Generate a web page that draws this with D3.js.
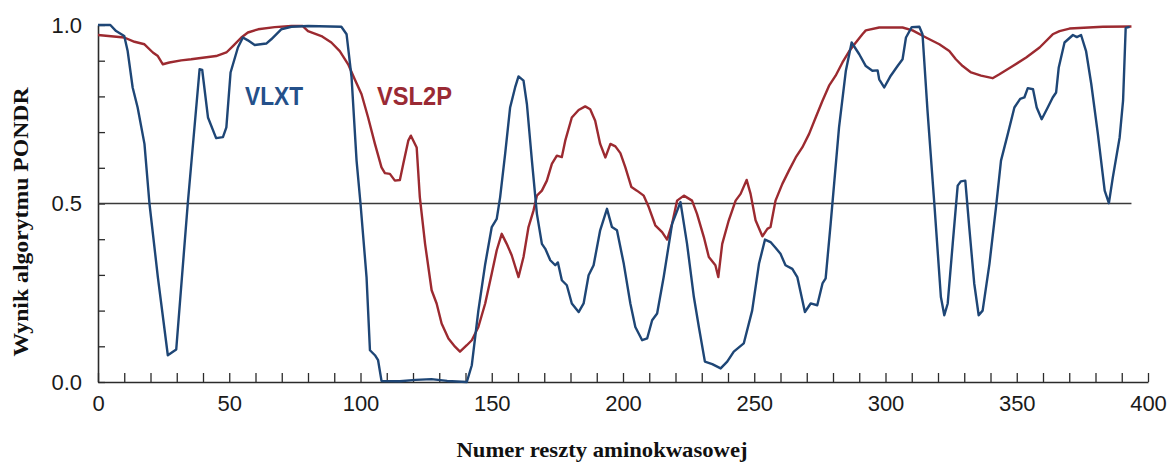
<!DOCTYPE html>
<html>
<head>
<meta charset="utf-8">
<script src="https://cdn.jsdelivr.net/npm/d3@7"></script>
<style>
  html, body { margin: 0; padding: 0; background: #ffffff; }
  svg { display: block; }
</style>
</head>
<body>
<svg id="chart" width="1171" height="464"></svg>
<script>
// ---- Data ----
const vlxtResidue = [0,1,4.7,6.9,10,11.3,13.2,15.1,17.7,19.6,22.8,26.6,29.8,34.2,38.7,39.7,41.9,45,47.6,48.9,50.5,53.3,55.2,57.1,59.7,64.1,66,69.8,73.7,80,92.7,94.7,96.6,98.5,100,102.3,103.6,105.5,106.7,108,115,121,127,133,140.5,142.4,144.9,147.5,150,151.9,153.2,155.1,157,158.9,160.2,162.1,163.4,165.3,167.2,169.1,170.4,172.3,174.2,175.2,176.7,178.6,180.5,183.1,185,186.9,188.8,191.3,193.9,195.8,197.7,200.3,202.8,204.7,207.3,209.2,211.1,213,215.5,218.7,221.9,224.4,227,228.9,231.2,234,237.2,239.7,242.2,246,249.2,251.8,254.1,256.2,258.1,260,261.9,264.5,266.4,269.3,271.5,274,276,277.2,279.1,282.3,284.9,287.1,290,292.5,295,297,297.6,299.5,302,304.6,306.5,307.8,310,312.9,314.1,316,318.6,321.1,322.4,323.7,325.6,327.5,328.7,330.4,331.9,333.8,335.5,337,339.6,342.1,344,346.6,349.1,351.3,352.9,354.2,356.2,357.6,359.5,361.8,363.7,365,366,368.2,371.4,372.9,374.5,376.4,378.4,380.9,383.5,385.1,386.6,389.2,390.5,391.5,393];
const vlxtScore = [1.0,1.0,1.0,0.983,0.969,0.927,0.825,0.769,0.667,0.5,0.294,0.075,0.091,0.5,0.876,0.874,0.741,0.683,0.686,0.713,0.867,0.937,0.965,0.957,0.944,0.948,0.96,0.988,0.995,0.997,0.995,0.974,0.853,0.62,0.5,0.294,0.089,0.075,0.061,0.003,0.002,0.006,0.008,0.003,0.0,0.047,0.2,0.33,0.434,0.457,0.518,0.639,0.769,0.825,0.856,0.844,0.778,0.62,0.471,0.387,0.373,0.341,0.327,0.335,0.285,0.271,0.22,0.196,0.22,0.299,0.327,0.425,0.485,0.434,0.425,0.331,0.22,0.154,0.117,0.122,0.173,0.192,0.294,0.443,0.504,0.387,0.238,0.154,0.057,0.05,0.038,0.057,0.085,0.108,0.2,0.331,0.399,0.392,0.376,0.359,0.327,0.317,0.294,0.196,0.22,0.215,0.276,0.29,0.443,0.713,0.872,0.951,0.918,0.885,0.872,0.873,0.848,0.825,0.858,0.885,0.904,0.965,0.994,0.995,0.974,0.76,0.5,0.238,0.187,0.22,0.387,0.55,0.562,0.564,0.434,0.276,0.187,0.2,0.331,0.49,0.62,0.695,0.769,0.793,0.797,0.823,0.82,0.769,0.736,0.769,0.797,0.811,0.881,0.951,0.972,0.966,0.972,0.927,0.834,0.695,0.536,0.501,0.573,0.685,0.788,0.992,0.995];

const vsl2pResidue = [0,10,13.9,17.7,20.9,22.8,24.7,27.2,31.7,35.5,40.6,45,48.9,51.4,54.6,57.1,61,67.3,73.7,78,80,85.1,88.9,92.1,95.3,97.8,100.4,102.9,105.5,108,109.3,111.2,113.1,115,116.3,118.2,119.2,121.4,122.6,124.6,127.1,129,130.9,133.5,136,137.9,140.5,142.4,144.9,147.5,150,151.9,153.8,155.7,157.6,160.2,162.1,164,165.9,167.2,169.1,171,172.9,174.8,176.7,178,180.5,183.1,185.6,187.5,189.4,191.3,193.3,195.2,197.1,199,200.9,203.2,205.3,207.9,209.8,212.3,214.9,216.8,218.7,220.6,223.2,226.3,228.2,230.8,232.7,235.2,236.3,237.8,240.3,242.9,244.8,247.1,248.6,250.5,253.1,255,256.2,258.1,260.7,263.2,265.8,268.3,270.9,273.4,276,278.5,281,283.6,286.2,288.7,291.2,292.5,297.6,306.5,310.3,315.4,320.5,324.3,326.8,329.4,332.6,336.4,340.8,343.4,348.5,353.6,358.7,363.7,366.3,370.1,382.8,393.7];
const vsl2pScore = [0.972,0.965,0.953,0.946,0.923,0.913,0.89,0.895,0.901,0.904,0.909,0.913,0.923,0.941,0.965,0.979,0.988,0.994,0.997,0.997,0.983,0.969,0.951,0.927,0.89,0.848,0.806,0.741,0.667,0.601,0.585,0.583,0.564,0.566,0.611,0.676,0.69,0.657,0.518,0.387,0.257,0.22,0.164,0.122,0.099,0.085,0.103,0.117,0.154,0.22,0.304,0.369,0.415,0.387,0.355,0.294,0.35,0.434,0.48,0.522,0.536,0.564,0.611,0.634,0.63,0.676,0.741,0.762,0.772,0.764,0.732,0.667,0.629,0.667,0.66,0.641,0.601,0.546,0.536,0.522,0.49,0.439,0.42,0.399,0.443,0.508,0.522,0.508,0.471,0.406,0.35,0.327,0.294,0.387,0.453,0.508,0.527,0.566,0.527,0.453,0.408,0.429,0.434,0.508,0.555,0.592,0.629,0.657,0.695,0.741,0.788,0.83,0.858,0.895,0.927,0.951,0.974,0.985,0.993,0.993,0.985,0.965,0.946,0.927,0.904,0.885,0.867,0.858,0.851,0.862,0.885,0.909,0.937,0.974,0.983,0.99,0.995,0.996];

const thresholdValue = 0.5;
const thresholdExtent = [0, 393.7];

const xTickValues = d3.range(0, 401, 10);
const xTickLabels = [0, 50, 100, 150, 200, 250, 300, 350, 400];
const yTickValues = d3.range(0, 11).map(i => i / 10);
const yTickLabels = ["0.0", "0.5", "1.0"];

const seriesNames = ["VLXT", "VSL2P"];
const xTitle = "Numer reszty aminokwasowej";
const yTitle = "Wynik algorytmu PONDR";

// ---- Drawing ----
const svg = d3.select("#chart");
svg.append("rect").attr("width", 1171).attr("height", 464).attr("fill", "#ffffff");

const x = d3.scaleLinear().domain([0, 400]).range([98, 1148]);
const y = d3.scaleLinear().domain([0, 1]).range([382, 25]);

const axisColor = "#2b2b2b";
const blue = "#1e4676";
const red = "#9c2a30";

// x axis
const xAxis = d3.axisBottom(x)
  .tickValues(xTickValues)
  .tickSizeInner(-9)
  .tickSizeOuter(0)
  .tickPadding(13)
  .tickFormat(d => xTickLabels.includes(d) ? String(d) : "");
const gx = svg.append("g").attr("transform", `translate(0,${y(0)})`).call(xAxis);
gx.select(".domain").attr("stroke", axisColor).attr("stroke-width", 1.6);
gx.selectAll(".tick line").attr("stroke", axisColor).attr("stroke-width", 1.3);
gx.selectAll(".tick text")
  .attr("fill", "#1a1a1a")
  .style("font-family", "'Liberation Sans', Arial, sans-serif")
  .style("font-size", "22px");

// y axis
const yAxis = d3.axisLeft(y)
  .tickValues(yTickValues)
  .tickSizeInner(-7)
  .tickSizeOuter(0)
  .tickPadding(16)
  .tickFormat(d => {
    const s = d.toFixed(1);
    return yTickLabels.includes(s) ? s : "";
  });
const gy = svg.append("g").attr("transform", `translate(${x(0)},0)`).call(yAxis);
gy.select(".domain").attr("stroke", axisColor).attr("stroke-width", 1.6);
gy.selectAll(".tick line").attr("stroke", axisColor).attr("stroke-width", 1.3);
gy.selectAll(".tick text")
  .attr("fill", "#1a1a1a")
  .style("font-family", "'Liberation Sans', Arial, sans-serif")
  .style("font-size", "22px");

// threshold line at 0.5
svg.append("line")
  .attr("x1", x(thresholdExtent[0])).attr("x2", x(thresholdExtent[1]))
  .attr("y1", y(thresholdValue)).attr("y2", y(thresholdValue))
  .attr("stroke", "#3a3a3a").attr("stroke-width", 1.6);

const line = d3.line().x(d => x(d[0])).y(d => y(d[1])).curve(d3.curveLinear);

const vsl2p = vsl2pResidue.map((r, i) => [r, vsl2pScore[i]]);
const vlxt = vlxtResidue.map((r, i) => [r, vlxtScore[i]]);

svg.append("path").datum(vsl2p)
  .attr("d", line).attr("fill", "none")
  .attr("stroke", red).attr("stroke-width", 2.4).attr("stroke-linejoin", "round");

svg.append("path").datum(vlxt)
  .attr("d", line).attr("fill", "none")
  .attr("stroke", blue).attr("stroke-width", 2.4).attr("stroke-linejoin", "round");

// series labels
svg.append("text")
  .attr("x", 245).attr("y", 105)
  .attr("fill", "#24508a")
  .attr("textLength", 58).attr("lengthAdjust", "spacingAndGlyphs")
  .style("font-family", "'Liberation Sans', Arial, sans-serif")
  .style("font-weight", "bold").style("font-size", "26px")
  .text(seriesNames[0]);
svg.append("text")
  .attr("x", 377).attr("y", 105)
  .attr("fill", "#9a2a34")
  .attr("textLength", 75).attr("lengthAdjust", "spacingAndGlyphs")
  .style("font-family", "'Liberation Sans', Arial, sans-serif")
  .style("font-weight", "bold").style("font-size", "26px")
  .text(seriesNames[1]);

// axis titles
svg.append("text")
  .attr("x", 602).attr("y", 457)
  .attr("text-anchor", "middle")
  .attr("fill", "#111")
  .attr("textLength", 291).attr("lengthAdjust", "spacingAndGlyphs")
  .style("font-family", "'Liberation Serif', 'Times New Roman', serif")
  .style("font-weight", "bold").style("font-size", "22px")
  .text(xTitle);

svg.append("text")
  .attr("transform", "translate(28,222) rotate(-90)")
  .attr("text-anchor", "middle")
  .attr("fill", "#111")
  .attr("textLength", 269).attr("lengthAdjust", "spacingAndGlyphs")
  .style("font-family", "'Liberation Serif', 'Times New Roman', serif")
  .style("font-weight", "bold").style("font-size", "22px")
  .text(yTitle);
</script>
</body>
</html>
